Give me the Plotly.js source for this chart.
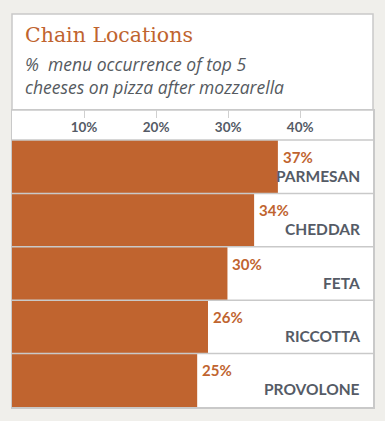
<!DOCTYPE html>
<html>
<head>
<meta charset="utf-8">
<script src="https://cdn.plot.ly/plotly-3.0.1.min.js"></script>
<style>
  html, body { margin: 0; padding: 0; background: #f0efeb; }
  #chart { width: 385px; height: 421px; }
</style>
</head>
<body>
<div id="chart"></div>
<script>
// Data
const cheeses = ["PARMESAN", "CHEDDAR", "FETA", "RICCOTTA", "PROVOLONE"];
const barValues = [36.9, 33.6, 29.9, 27.2, 25.7];
const valueLabels = ["37%", "34%", "30%", "26%", "25%"];
const tickValues = [10, 20, 30, 40];
const tickLabels = ["10%", "20%", "30%", "40%"];

const orange = "#c0642f";
const grey = "#555b66";
const lineCol = "#c9c9c9";

const annotations = [];
cheeses.forEach((c, i) => {
  annotations.push({
    x: barValues[i], y: c, xref: "x", yref: "y",
    text: "<b>" + valueLabels[i] + "</b>", showarrow: false,
    xanchor: "left", yanchor: "middle", xshift: 3, yshift: 10,
    font: { family: "Lato, 'Open Sans', sans-serif", size: 15, color: orange }
  });
  annotations.push({
    x: 1, y: c, xref: "paper", yref: "y",
    text: "<b>" + c + "</b>", showarrow: false,
    xanchor: "right", yanchor: "middle", xshift: -11, yshift: -9,
    font: { family: "Lato, 'Open Sans', sans-serif", size: 15.5, color: grey }
  });
});
annotations.push({
  x: 0, y: 1.116, xref: "paper", yref: "paper", xanchor: "left", yanchor: "middle",
  xshift: 11, align: "left", showarrow: false,
  text: "%  menu occurrence of top 5<br>cheeses on pizza after mozzarella",
  font: { family: "'Open Sans', sans-serif", size: 17.5, color: "#555a60", style: "italic" }
});

const shapes = [{
  type: "rect", xref: "paper", yref: "paper", x0: 0, x1: 1, y0: 1, y1: 1.3232,
  fillcolor: "#ffffff", line: { color: lineCol, width: 1.5 }, layer: "below"
}];
cheeses.forEach((c, i) => {
  shapes.push({
    type: "line", xref: "paper", yref: "y", x0: 0, x1: 1, y0: i - 0.5, y1: i - 0.5,
    line: { color: lineCol, width: 1.5 }, layer: "above"
  });
});

const data = [{
  type: "bar", orientation: "h",
  x: barValues, y: cheeses, width: 1,
  marker: { color: orange, line: { width: 0 } },
  hoverinfo: "none"
}];

const layout = {
  width: 385, height: 421,
  margin: { l: 12, r: 12, t: 110, b: 14, pad: 0 },
  paper_bgcolor: "#f0efeb",
  plot_bgcolor: "#ffffff",
  showlegend: false,
  title: {
    text: "Chain Locations",
    x: 25 / 385, xref: "container", xanchor: "left",
    y: 1 - 35 / 421, yref: "container", yanchor: "middle",
    font: { family: "'DejaVu Serif', serif", size: 20.5, color: orange }
  },
  xaxis: {
    side: "top", range: [0, 50.1], tickvals: tickValues, ticktext: tickLabels,
    ticks: "inside", ticklen: 8, tickwidth: 1, tickcolor: "#d0d0d0",
    ticklabelposition: "inside", ticklabelstandoff: 4,
    tickfont: { family: "Lato, sans-serif", size: 13.5, color: grey, weight: "bold" },
    showgrid: false, zeroline: false,
    showline: true, linecolor: lineCol, linewidth: 1.5, mirror: true, fixedrange: true
  },
  yaxis: {
    type: "category", range: [4.5, -1.062],
    showticklabels: false, ticks: "", showgrid: false, zeroline: false,
    showline: true, linecolor: lineCol, linewidth: 1.5, mirror: true, fixedrange: true
  },
  annotations: annotations,
  shapes: shapes
};

Plotly.newPlot("chart", data, layout, { displayModeBar: false, staticPlot: true });
</script>
</body>
</html>
